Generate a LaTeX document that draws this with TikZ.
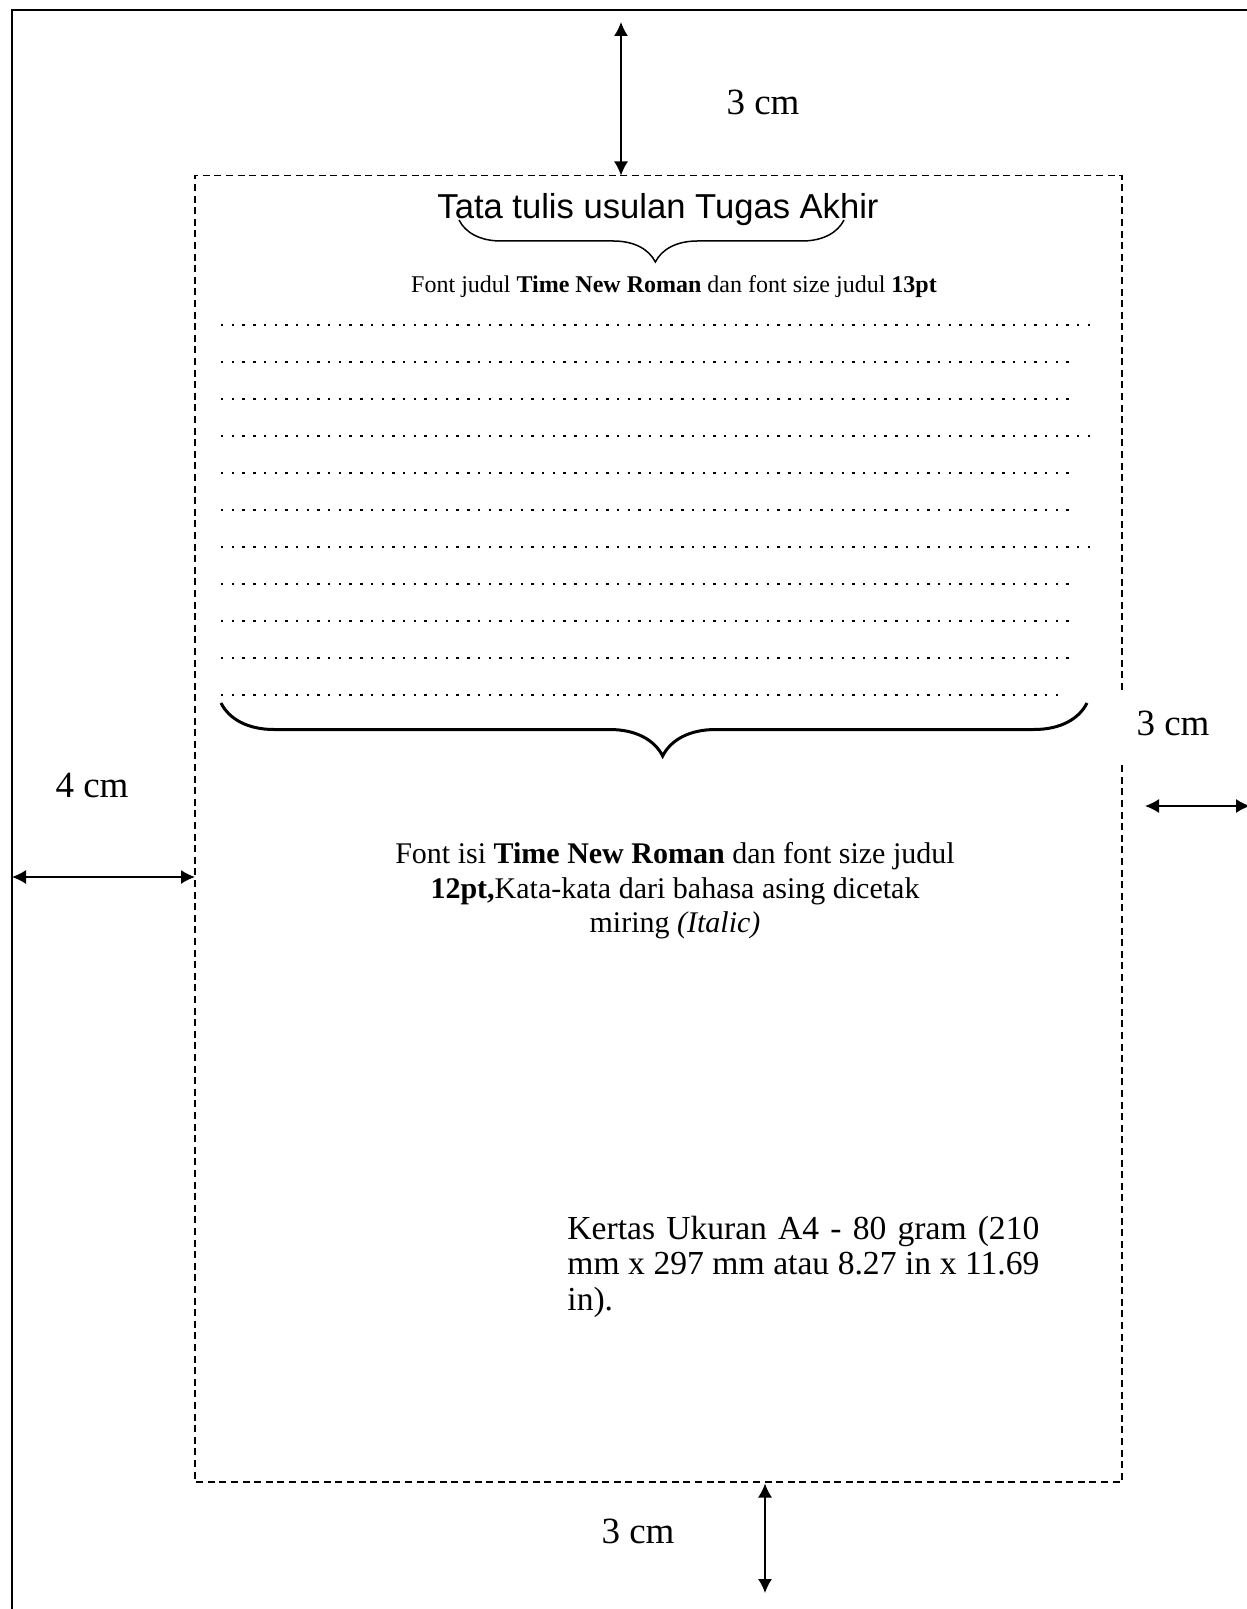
\documentclass[tikz,border=0pt]{standalone}
\usepackage{fontspec}
\setmainfont{Liberation Serif}
\newfontfamily\arialfont{Liberation Sans}
\usetikzlibrary{arrows.meta,decorations.pathreplacing}

\tikzset{
  margin/.style={{Latex[length=7pt,width=7pt]}-{Latex[length=7pt,width=7pt]}, line width=0.75pt},
  ukuran/.style={font=\fontsize{18.5pt}{22pt}\selectfont, inner sep=0pt},
  batas/.style={dash pattern=on 3.5pt off 2.3pt, line width=0.75pt},
  titik/.style={line width=1.2pt, dash pattern=on 1.2pt off 4.15pt},
  kurung/.style={decorate, decoration={brace, amplitude=#1, aspect=0.49}},
}

\begin{document}
\begin{tikzpicture}[x=0.5pt, y=-0.5pt]
  \useasboundingbox (0,0) rectangle (1246,1609);

  % tepi kertas
  \draw[line width=1pt] (1260,10.5) -- (12,10.5) -- (12,1620);
  % batas tulisan
  \draw[batas] (1122,690) -- (1122,175.5) -- (195,175.5) -- (195,1482) -- (1122,1482) -- (1122,765);

  \coordinate (atasA)  at (621,22);    \coordinate (atasB)  at (621,175.5);
  \coordinate (kiriA)  at (12,877);    \coordinate (kiriB)  at (195,877);
  \coordinate (kananA) at (1145,806);  \coordinate (kananB) at (1250,806);
  \coordinate (bawahA) at (765,1483.5); \coordinate (bawahB) at (765,1593);

  \draw[margin] (atasA) -- (atasB);
  \draw[margin] (kiriA) -- (kiriB);
  \draw[margin] (kananA) -- (kananB);
  \draw[margin] (bawahA) -- (bawahB);

  \node[ukuran, anchor=base] (atas)  at (763,115)  {3 cm};
  \node[ukuran, anchor=base] (kanan) at (1173,735) {3 cm};
  \node[ukuran, anchor=base] (kiri)  at (92,797)   {4 cm};
  \node[ukuran, anchor=base] (bawah) at (638,1543) {3 cm};

  % judul
  \node[font=\arialfont\fontsize{17.3pt}{20pt}\selectfont, inner sep=0pt, anchor=base] (judul) at (658,219) {Tata tulis usulan Tugas Akhir};
  \draw[line width=0.75pt, kurung=21pt] (844,220) -- (459,220);
  \node[font=\fontsize{12pt}{14pt}\selectfont, inner sep=0pt, anchor=base] (ketjudul) at (674,293)
    {Font judul \textbf{Time New Roman} dan font size judul \textbf{13pt}};

  % baris isi
  \foreach \k/\ujung in {0/1093,1/1075,2/1075,3/1093,4/1075,5/1075,6/1093,7/1075,8/1075,9/1075,10/1063}
    \draw[titik] (221,{325+37*\k}) -- (\ujung,{325+37*\k});
  \draw[line width=1.5pt, kurung=26.5pt] (1087,703) -- (221,703);

  \node[font=\fontsize{15pt}{17.2pt}\selectfont, align=center, inner sep=0pt] (ketisi) at (675,891)
    {Font isi \textbf{Time New Roman} dan font size judul\\
     \textbf{12pt,}Kata-kata dari bahasa asing dicetak\\
     miring \textit{(Italic)}};

  \node[font=\fontsize{16.8pt}{17.6pt}\selectfont, align=left, inner sep=0pt, anchor=north west] (kertas) at (567,1216)
    {\makebox[236pt][s]{Kertas Ukuran A4 - 80 gram (210}\\
     \makebox[236pt][s]{mm x 297 mm atau 8.27 in x 11.69}\\
     in).};
\end{tikzpicture}
\end{document}
